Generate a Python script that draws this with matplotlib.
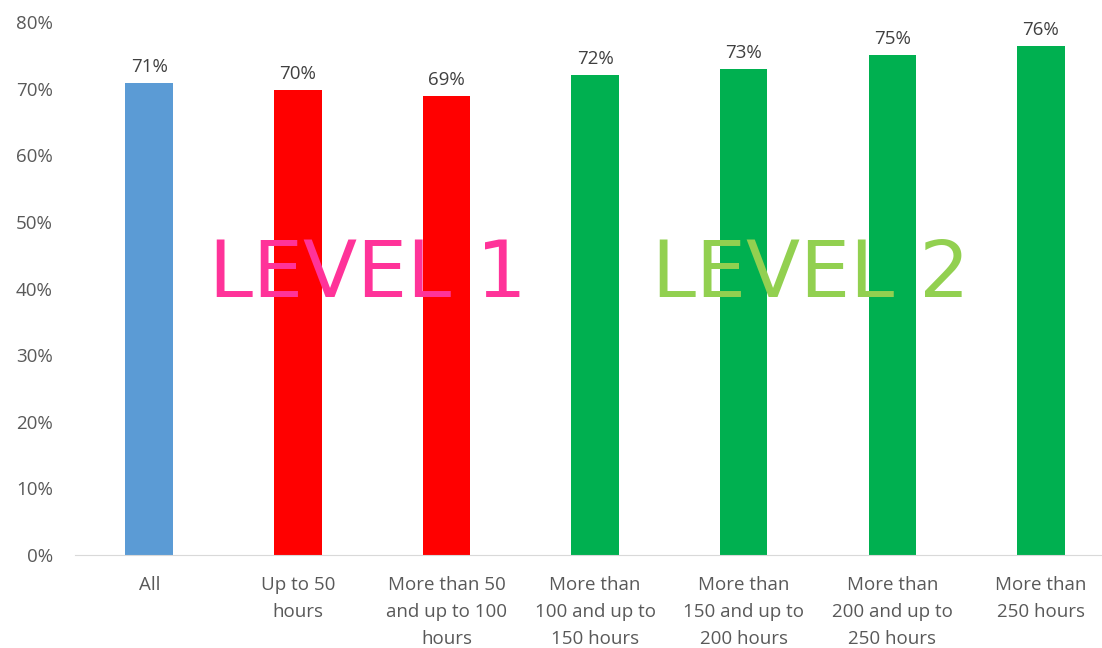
import matplotlib
matplotlib.use('Agg')
import matplotlib.pyplot as plt
from matplotlib.ticker import PercentFormatter

categories = ['All', 'Up to 50\nhours', 'More than 50\nand up to 100\nhours',
              'More than\n100 and up to\n150 hours', 'More than\n150 and up to\n200 hours',
              'More than\n200 and up to\n250 hours', 'More than\n250 hours']
values = [70.8, 69.8, 68.9, 72.0, 72.9, 75.0, 76.4]
colors = ['#5B9BD5', '#FF0000', '#FF0000', '#00B050', '#00B050', '#00B050', '#00B050']

plt.rcParams['font.family'] = ['Open Sans', 'DejaVu Sans']

fig = plt.figure(figsize=(11.02, 6.48), dpi=100)
ax = fig.add_axes([0.068, 0.1435, 0.944, 0.8225])

x = range(len(categories))
bars = ax.bar(x, values, width=0.32, color=colors, zorder=2)

for b, v in zip(bars, values):
    ax.text(b.get_x() + b.get_width() / 2, v + 1.1, '{:.0f}%'.format(v),
            ha='center', va='bottom', fontsize=13.5, color='#404040')

ax.text(1.47, 42, 'LEVEL 1', ha='center', va='center', fontsize=57,
        color='#FF3399', family='DejaVu Sans', zorder=3)
ax.text(4.45, 42, 'LEVEL 2', ha='center', va='center', fontsize=57,
        color='#92D050', family='DejaVu Sans', zorder=3)

ax.set_xlim(-0.5, 6.5)
ax.set_ylim(0, 80)
ax.set_yticks(range(0, 81, 10))
ax.yaxis.set_major_formatter(PercentFormatter(decimals=0))
ax.set_xticks(list(x))
ax.set_xticklabels(categories, fontsize=13.5, color='#595959', linespacing=1.65)
ax.tick_params(axis='y', labelsize=13.5, labelcolor='#595959', length=0, pad=16)
ax.tick_params(axis='x', length=0, pad=15)

for s in ['top', 'right', 'left']:
    ax.spines[s].set_visible(False)
ax.spines['bottom'].set_color('#D9D9D9')

fig.savefig('out.png', dpi=100)
